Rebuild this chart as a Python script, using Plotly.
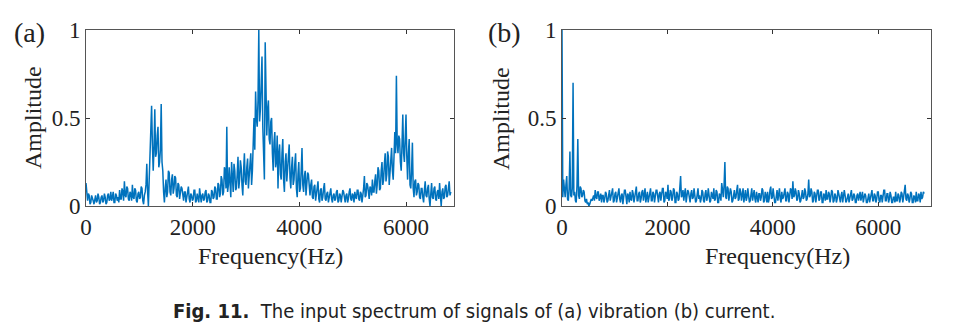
import plotly.graph_objects as go

step_hz = 15

# Panel (a): vibration spectrum (15 Hz spacing from 0 Hz)
amp_a = [
    0.13, 0.05, 0.03, 0.07, 0.06, 0.01, 0.02, 0.06, 0.05, 0.03, 0.01, 0.05, 0.06, 0.02, 0.03, 0.07, 0.05, 0.01, 0.02, 0.05,
    0.06, 0.02, 0.03, 0.07, 0.05, 0.01, 0.02, 0.06, 0.07, 0.03, 0.04, 0.08, 0.03, 0.05, 0.08, 0.02, 0.02, 0.07, 0.06, 0.03,
    0.05, 0.02, 0.09, 0.04, 0.04, 0.10, 0.08, 0.03, 0.14, 0.06, 0.05, 0.11, 0.10, 0.04, 0.03, 0.08, 0.07, 0.03, 0.12, 0.05,
    0.04, 0.10, 0.09, 0.03, 0.02, 0.07, 0.08, 0.04, 0.05, 0.11, 0.10, 0.03, 0.01, 0.06, 0.08, 0.12, 0.24, 0.08, 0.00, 0.15,
    0.30, 0.42, 0.57, 0.35, 0.20, 0.33, 0.55, 0.28, 0.30, 0.40, 0.45, 0.22, 0.25, 0.32, 0.58, 0.25, 0.20, 0.08, 0.02, 0.10,
    0.15, 0.05, 0.08, 0.20, 0.19, 0.08, 0.06, 0.15, 0.18, 0.07, 0.10, 0.17, 0.16, 0.06, 0.05, 0.13, 0.12, 0.04, 0.07, 0.11,
    0.10, 0.04, 0.03, 0.08, 0.08, 0.02, 0.05, 0.10, 0.11, 0.04, 0.02, 0.07, 0.06, 0.03, 0.04, 0.09, 0.09, 0.02, 0.03, 0.07,
    0.05, 0.02, 0.10, 0.04, 0.02, 0.06, 0.07, 0.03, 0.04, 0.08, 0.09, 0.02, 0.03, 0.07, 0.06, 0.02, 0.02, 0.09, 0.08, 0.04,
    0.05, 0.11, 0.10, 0.04, 0.04, 0.13, 0.12, 0.05, 0.07, 0.17, 0.15, 0.06, 0.08, 0.22, 0.20, 0.10, 0.45, 0.08, 0.12, 0.22,
    0.12, 0.05, 0.25, 0.12, 0.08, 0.24, 0.20, 0.09, 0.10, 0.18, 0.28, 0.10, 0.15, 0.26, 0.22, 0.12, 0.06, 0.20, 0.30, 0.14,
    0.12, 0.22, 0.27, 0.10, 0.15, 0.24, 0.30, 0.12, 0.20, 0.40, 0.50, 0.32, 0.65, 0.50, 0.45, 0.60, 1.00, 0.48, 0.55, 0.70,
    0.85, 0.45, 0.30, 0.15, 0.93, 0.50, 0.40, 0.55, 0.60, 0.38, 0.35, 0.48, 0.50, 0.30, 0.20, 0.36, 0.42, 0.22, 0.25, 0.40,
    0.10, 0.30, 0.35, 0.18, 0.15, 0.30, 0.38, 0.15, 0.08, 0.25, 0.30, 0.14, 0.20, 0.30, 0.35, 0.16, 0.10, 0.22, 0.28, 0.12,
    0.15, 0.24, 0.30, 0.10, 0.05, 0.18, 0.25, 0.08, 0.10, 0.20, 0.33, 0.12, 0.08, 0.17, 0.20, 0.06, 0.12, 0.19, 0.18, 0.07,
    0.06, 0.12, 0.15, 0.05, 0.04, 0.11, 0.12, 0.03, 0.08, 0.13, 0.14, 0.04, 0.02, 0.09, 0.10, 0.03, 0.05, 0.10, 0.13, 0.04,
    0.03, 0.07, 0.08, 0.02, 0.05, 0.09, 0.10, 0.04, 0.02, 0.06, 0.07, 0.03, 0.04, 0.08, 0.09, 0.02, 0.03, 0.07, 0.06, 0.02,
    0.05, 0.09, 0.08, 0.03, 0.02, 0.06, 0.07, 0.02, 0.04, 0.08, 0.10, 0.04, 0.03, 0.07, 0.06, 0.02, 0.08, 0.05, 0.04, 0.09,
    0.09, 0.04, 0.03, 0.08, 0.07, 0.02, 0.05, 0.10, 0.17, 0.05, 0.06, 0.13, 0.12, 0.05, 0.04, 0.11, 0.10, 0.06, 0.15, 0.08,
    0.08, 0.14, 0.18, 0.07, 0.12, 0.22, 0.20, 0.09, 0.10, 0.20, 0.25, 0.12, 0.15, 0.24, 0.30, 0.14, 0.18, 0.31, 0.28, 0.12,
    0.20, 0.30, 0.33, 0.20, 0.15, 0.28, 0.42, 0.30, 0.74, 0.35, 0.30, 0.40, 0.38, 0.25, 0.20, 0.35, 0.52, 0.30, 0.25, 0.38,
    0.52, 0.28, 0.15, 0.30, 0.38, 0.12, 0.10, 0.20, 0.36, 0.10, 0.05, 0.14, 0.15, 0.06, 0.08, 0.13, 0.12, 0.05, 0.04, 0.10,
    0.10, 0.05, 0.02, 0.09, 0.14, 0.06, 0.05, 0.10, 0.12, 0.04, 0.00, 0.07, 0.13, 0.05, 0.04, 0.10, 0.11, 0.04, 0.03, 0.08,
    0.09, 0.04, 0.13, 0.06, 0.00, 0.08, 0.10, 0.04, 0.05, 0.11, 0.12, 0.05, 0.06, 0.10, 0.14, 0.06, 0.08,
]

# Panel (b): current spectrum (15 Hz spacing from 0 Hz)
amp_b = [
    1.00, 0.05, 0.15, 0.08, 0.05, 0.12, 0.17, 0.04, 0.03, 0.10, 0.31, 0.06, 0.05, 0.10, 0.70, 0.06, 0.08, 0.03, 0.02, 0.12,
    0.38, 0.06, 0.04, 0.11, 0.10, 0.05, 0.06, 0.09, 0.08, 0.03, 0.02, 0.04, 0.01, 0.02, 0.00, 0.01, 0.02, 0.04, 0.03, 0.05,
    0.06, 0.03, 0.09, 0.05, 0.04, 0.08, 0.08, 0.03, 0.05, 0.07, 0.02, 0.06, 0.06, 0.02, 0.04, 0.08, 0.07, 0.02, 0.03, 0.06,
    0.09, 0.03, 0.05, 0.08, 0.10, 0.02, 0.03, 0.07, 0.08, 0.02, 0.05, 0.09, 0.10, 0.04, 0.02, 0.06, 0.07, 0.01, 0.04, 0.09,
    0.09, 0.04, 0.01, 0.07, 0.06, 0.02, 0.08, 0.04, 0.03, 0.09, 0.07, 0.02, 0.05, 0.08, 0.11, 0.03, 0.03, 0.07, 0.08, 0.02,
    0.04, 0.08, 0.09, 0.03, 0.06, 0.10, 0.02, 0.06, 0.08, 0.02, 0.05, 0.09, 0.10, 0.03, 0.03, 0.08, 0.07, 0.02, 0.05, 0.09,
    0.09, 0.03, 0.02, 0.07, 0.08, 0.03, 0.06, 0.10, 0.10, 0.02, 0.03, 0.08, 0.07, 0.04, 0.12, 0.03, 0.04, 0.09, 0.08, 0.03,
    0.05, 0.10, 0.09, 0.02, 0.02, 0.08, 0.07, 0.03, 0.04, 0.09, 0.17, 0.05, 0.06, 0.09, 0.03, 0.07, 0.10, 0.02, 0.05, 0.09,
    0.08, 0.03, 0.02, 0.07, 0.09, 0.04, 0.05, 0.10, 0.07, 0.02, 0.03, 0.08, 0.10, 0.04, 0.06, 0.02, 0.04, 0.09, 0.08, 0.03,
    0.02, 0.07, 0.09, 0.03, 0.05, 0.10, 0.07, 0.02, 0.03, 0.08, 0.06, 0.04, 0.10, 0.03, 0.04, 0.09, 0.08, 0.02, 0.02, 0.07,
    0.06, 0.03, 0.13, 0.06, 0.05, 0.12, 0.25, 0.05, 0.04, 0.11, 0.10, 0.03, 0.06, 0.10, 0.08, 0.02, 0.03, 0.08, 0.09, 0.04,
    0.05, 0.09, 0.12, 0.03, 0.04, 0.10, 0.08, 0.03, 0.06, 0.10, 0.02, 0.07, 0.09, 0.03, 0.05, 0.10, 0.07, 0.02, 0.03, 0.08,
    0.10, 0.03, 0.06, 0.09, 0.04, 0.02, 0.08, 0.03, 0.02, 0.07, 0.07, 0.03, 0.05, 0.10, 0.09, 0.02, 0.03, 0.08, 0.06, 0.02,
    0.08, 0.02, 0.04, 0.09, 0.11, 0.04, 0.05, 0.10, 0.07, 0.02, 0.02, 0.08, 0.09, 0.03, 0.06, 0.10, 0.04, 0.02, 0.08, 0.04,
    0.05, 0.09, 0.10, 0.03, 0.03, 0.08, 0.07, 0.02, 0.05, 0.10, 0.09, 0.04, 0.14, 0.05, 0.06, 0.10, 0.08, 0.03, 0.04, 0.09,
    0.07, 0.02, 0.03, 0.08, 0.09, 0.04, 0.05, 0.10, 0.08, 0.03, 0.04, 0.07, 0.15, 0.05, 0.06, 0.10, 0.08, 0.02, 0.03, 0.08,
    0.07, 0.02, 0.05, 0.09, 0.09, 0.03, 0.04, 0.08, 0.08, 0.02, 0.02, 0.07, 0.06, 0.03, 0.09, 0.04, 0.04, 0.08, 0.07, 0.02,
    0.05, 0.09, 0.08, 0.02, 0.03, 0.07, 0.06, 0.02, 0.04, 0.09, 0.07, 0.03, 0.02, 0.06, 0.08, 0.02, 0.05, 0.09, 0.06, 0.02,
    0.03, 0.06, 0.07, 0.02, 0.05, 0.08, 0.09, 0.03, 0.04, 0.07, 0.06, 0.02, 0.02, 0.06, 0.07, 0.03, 0.05, 0.08, 0.03, 0.06,
    0.08, 0.02, 0.04, 0.07, 0.06, 0.02, 0.02, 0.06, 0.07, 0.02, 0.05, 0.08, 0.09, 0.03, 0.03, 0.07, 0.06, 0.02, 0.04, 0.08,
    0.08, 0.03, 0.02, 0.06, 0.06, 0.02, 0.05, 0.09, 0.09, 0.03, 0.03, 0.07, 0.07, 0.02, 0.04, 0.08, 0.06, 0.02, 0.02, 0.05,
    0.05, 0.02, 0.08, 0.03, 0.03, 0.07, 0.06, 0.02, 0.04, 0.08, 0.07, 0.02, 0.05, 0.09, 0.12, 0.04, 0.03, 0.07, 0.06, 0.02,
    0.04, 0.08, 0.07, 0.02, 0.02, 0.06, 0.05, 0.02, 0.08, 0.03, 0.03, 0.07, 0.06, 0.02, 0.08, 0.04, 0.05, 0.08, 0.07,
]

freq_a = [i * step_hz for i in range(len(amp_a))]
freq_b = [i * step_hz for i in range(len(amp_b))]

x_ticks = [0, 2000, 4000, 6000]
y_ticks = [0, 0.5, 1]
y_tick_text = ["0", "0.5", "1"]

W, H = 957, 328
LINE = "#0072BD"
SERIF = "Liberation Serif, Times New Roman, serif"

fig = go.Figure()
fig.add_trace(go.Scatter(x=freq_a, y=amp_a, mode="lines",
                         line=dict(color=LINE, width=1.5), xaxis="x", yaxis="y",
                         showlegend=False))
fig.add_trace(go.Scatter(x=freq_b, y=amp_b, mode="lines",
                         line=dict(color=LINE, width=1.5), xaxis="x2", yaxis="y2",
                         showlegend=False))

ydom = [1 - 206 / H, 1 - 30 / H]
common_x = dict(tickvals=x_ticks, ticks="inside", ticklen=4, tickcolor="#333",
                showline=True, linecolor="#555", linewidth=1, mirror="ticks",
                showgrid=False, zeroline=False, automargin=False,
                tickfont=dict(family=SERIF, size=23, color="#222"))
common_y = dict(tickvals=y_ticks, ticktext=y_tick_text, range=[0, 1],
                ticks="inside", ticklen=4, tickcolor="#333",
                showline=True, linecolor="#555", linewidth=1, mirror="ticks",
                showgrid=False, zeroline=False, automargin=False,
                tickfont=dict(family=SERIF, size=23, color="#222"))

fig.update_layout(
    template="none",
    width=W, height=H,
    margin=dict(l=0, r=0, t=0, b=0, pad=0, autoexpand=False),
    paper_bgcolor="white", plot_bgcolor="white",
    xaxis=dict(domain=[86 / W, 454 / W], range=[0, 6900], anchor="y", **common_x),
    yaxis=dict(domain=ydom, anchor="x", **common_y),
    xaxis2=dict(domain=[562 / W, 931 / W], range=[0, 7000], anchor="y2", **common_x),
    yaxis2=dict(domain=ydom, anchor="x2", **common_y),
)

ann = []
# axis titles
for xc in (270 / W, 777 / W):
    ann.append(dict(text="Frequency(Hz)", x=xc, y=1 - 256 / H, xref="paper", yref="paper",
                    showarrow=False, xanchor="center", yanchor="middle",
                    font=dict(family=SERIF, size=24, color="#222")))
for xc in (33 / W, 501 / W):
    ann.append(dict(text="Amplitude", x=xc, y=1 - 118 / H, xref="paper", yref="paper",
                    showarrow=False, xanchor="center", yanchor="middle", textangle=-90,
                    font=dict(family=SERIF, size=24, color="#222")))
# panel labels
for xc, lab in ((29 / W, "(a)"), (504 / W, "(b)")):
    ann.append(dict(text=lab, x=xc, y=1 - 33 / H, xref="paper", yref="paper",
                    showarrow=False, xanchor="center", yanchor="middle",
                    font=dict(family=SERIF, size=28, color="#222")))
# caption
ann.append(dict(text="<b>Fig. 11.</b>  The input spectrum of signals of (a) vibration (b) current.",
                x=474 / W, y=1 - 311 / H, xref="paper", yref="paper",
                showarrow=False, xanchor="center", yanchor="middle",
                font=dict(family="Liberation Sans Narrow, DejaVu Sans Condensed, Roboto Condensed, sans-serif",
                          size=20, color="#222")))
fig.update_layout(annotations=ann)

fig.write_html("out.html")
